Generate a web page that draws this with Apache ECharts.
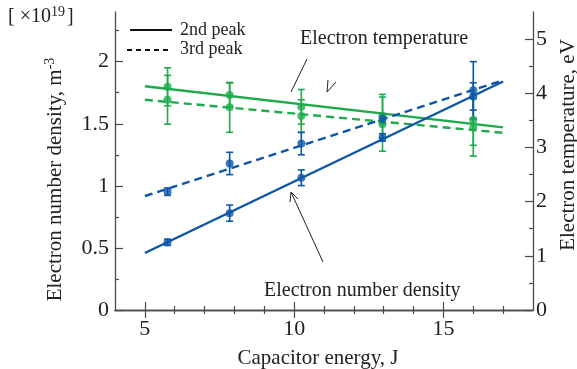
<!DOCTYPE html>
<html>
<head>
<meta charset="utf-8">
<script src="https://cdn.jsdelivr.net/npm/echarts@6/dist/echarts.min.js"></script>
<style>
  html, body { margin: 0; padding: 0; background: #fff; }
  #chart { width: 577px; height: 369px; }
</style>
</head>
<body>
<div id="chart"></div>
<script>
// Capacitor energy (J) of each discharge condition
var energy = [5.76, 7.84, 10.24, 12.96, 16.0];

// Electron number density [x10^19 m^-3] at the 2nd and 3rd current peaks
var density2nd = [0.545, 0.78, 1.065, 1.39, 1.72];
var density2ndErr = [0.025, 0.065, 0.063, 0.03, 0.11];
var density3rd = [0.953, 1.18, 1.34, 1.54, 1.77];
var density3rdErr = [0.03, 0.09, 0.09, 0.04, 0.23];

// Electron temperature [eV] at the 2nd and 3rd current peaks
var temp2nd = [4.12, 3.97, 3.75, 3.58, 3.51];
var temp2ndErr = [0.35, 0.22, 0.32, 0.4, 0.47];
var temp3rd = [3.88, 3.74, 3.58, 3.43, 3.37];
var temp3rdErr = [0.45, 0.46, 0.3, 0.5, 0.53];

// Linear fits, evaluated at the ends of the fitted range
var fitEnergy = [5, 17];
var density2ndFit = [0.459, 1.84];
var density3rdFit = [0.918, 1.85];
var temp2ndFit = [4.13, 3.37];
var temp3rdFit = [3.88, 3.27];

// Axis ticks
var xMajor = [5, 10, 15];
var xMinor = [6, 7, 8, 9, 11, 12, 13, 14, 16, 17];
var densMajor = [0, 0.5, 1, 1.5, 2];
var densMinor = [0.25, 0.75, 1.25, 1.75, 2.25];
var tempMajor = [0, 1, 2, 3, 4, 5];
var tempMinor = [0.5, 1.5, 2.5, 3.5, 4.5];

// Legend entries: the line style tells the two peaks apart
var legendNames = ['2nd peak', '3rd peak'];

var BLUE = '#0b56a8';
var GREEN = '#1fab4c';
var AXIS = '#4a4a4a';
var INK = '#222';
var FONT = '"Liberation Serif", "DejaVu Serif", serif';
var DASH = [8, 5];

function pairs(xs, ys) {
  return xs.map(function (x, i) { return [x, ys[i]]; });
}

function fitLine(ys, color, dashed, yIdx) {
  return {
    type: 'line',
    yAxisIndex: yIdx,
    data: pairs(fitEnergy, ys),
    symbol: 'none',
    silent: true,
    lineStyle: { color: color, width: 2.4, type: dashed ? DASH : 'solid' },
    z: 2
  };
}

function points(ys, color, yIdx) {
  return {
    type: 'scatter',
    yAxisIndex: yIdx,
    data: pairs(energy, ys),
    symbol: 'circle',
    symbolSize: 8,
    itemStyle: { color: color },
    z: 4
  };
}

function errorBars(ys, errs, color, yIdx) {
  return {
    type: 'custom',
    yAxisIndex: yIdx,
    encode: { x: 0, y: [1, 2] },
    data: energy.map(function (e, i) { return [e, ys[i] - errs[i], ys[i] + errs[i]]; }),
    renderItem: function (params, api) {
      var lo = api.coord([api.value(0), api.value(1)]);
      var hi = api.coord([api.value(0), api.value(2)]);
      var hw = 3.5;
      var st = { stroke: color, lineWidth: 1.6 };
      return {
        type: 'group',
        children: [
          { type: 'line', shape: { x1: lo[0], y1: lo[1], x2: hi[0], y2: hi[1] }, style: st },
          { type: 'line', shape: { x1: lo[0] - hw, y1: lo[1], x2: lo[0] + hw, y2: lo[1] }, style: st },
          { type: 'line', shape: { x1: hi[0] - hw, y1: hi[1], x2: hi[0] + hw, y2: hi[1] }, style: st }
        ]
      };
    },
    z: 3
  };
}

function tickAxis(base, values, len, extra) {
  var a = Object.assign({
    type: 'value',
    splitLine: { show: false },
    axisLine: { show: false },
    axisLabel: { show: false },
    axisTick: { show: true, inside: true, length: len, customValues: values,
                lineStyle: { color: AXIS, width: 1.2 } }
  }, base);
  return Object.assign(a, extra || {});
}

var nameStyle = { fontFamily: FONT, fontSize: 21, color: INK };
function tickLabels(values, margin) {
  return { show: true, customValues: values, margin: margin, fontFamily: FONT, fontSize: 22, color: INK };
}
var frameLine = { show: true, lineStyle: { color: AXIS, width: 1.3 } };

var chart = echarts.init(document.getElementById('chart'), null, { renderer: 'canvas' });

chart.setOption({
  animation: false,
  backgroundColor: '#fff',
  grid: { left: 115, right: 44, top: 12, bottom: 59, containLabel: false, outerBoundsMode: 'none' },
  xAxis: [
    tickAxis({ min: 4, max: 18, position: 'bottom' }, xMajor, 8, {
      axisLine: frameLine,
      axisLabel: tickLabels(xMajor, 8),
      name: 'Capacitor energy, J',
      nameLocation: 'middle',
      nameGap: 38,
      nameTextStyle: Object.assign({ padding: [0, 12, 0, 0] }, nameStyle)
    }),
    tickAxis({ min: 4, max: 18, position: 'bottom' }, xMinor, 4),
    tickAxis({ min: 4, max: 18, position: 'top' }, xMajor, 8, { axisLine: frameLine }),
    tickAxis({ min: 4, max: 18, position: 'top' }, xMinor, 4)
  ],
  yAxis: [
    tickAxis({ min: 0, max: 2.4, position: 'left' }, densMajor, 8, {
      axisLine: frameLine,
      axisLabel: tickLabels(densMajor, 6),
      name: 'Electron number density, m{sup|-3}',
      nameLocation: 'middle',
      nameRotate: 90,
      nameGap: 48,
      nameTextStyle: Object.assign({
        padding: [0, 37, 0, 0],
        rich: { sup: { fontFamily: FONT, fontSize: 14, color: INK, padding: [0, 0, 10, 0] } }
      }, nameStyle)
    }),
    tickAxis({ min: 0, max: 2.4, position: 'left' }, densMinor, 4),
    tickAxis({ min: 0, max: 5.5, position: 'right' }, tempMajor, 8, {
      axisLine: frameLine,
      axisLabel: tickLabels(tempMajor, 3),
      name: 'Electron temperature, eV',
      nameLocation: 'middle',
      nameRotate: 90,
      nameGap: 23,
      nameTextStyle: Object.assign({ padding: [0, 0, 0, 32] }, nameStyle)
    }),
    tickAxis({ min: 0, max: 5.5, position: 'right' }, tempMinor, 4)
  ],
  series: [
    fitLine(temp2ndFit, GREEN, false, 2),
    fitLine(temp3rdFit, GREEN, true, 2),
    fitLine(density2ndFit, BLUE, false, 0),
    fitLine(density3rdFit, BLUE, true, 0),

    errorBars(temp2nd, temp2ndErr, GREEN, 2),
    errorBars(temp3rd, temp3rdErr, GREEN, 2),
    errorBars(density2nd, density2ndErr, BLUE, 0),
    errorBars(density3rd, density3rdErr, BLUE, 0),

    points(temp2nd, GREEN, 2),
    points(temp3rd, GREEN, 2),
    points(density2nd, BLUE, 0),
    points(density3rd, BLUE, 0)
  ],
  graphic: [
    // unit multiplier of the density axis
    {
      type: 'text', left: 8, top: 5,
      style: {
        text: '[ \u00d710{s|19}]',
        fontFamily: FONT, fontSize: 20, fill: INK,
        rich: { s: { fontFamily: FONT, fontSize: 14, fill: INK, padding: [0, 2, 9, 0] } }
      }
    },
    // legend
    { type: 'line', shape: { x1: 130, y1: 30, x2: 172, y2: 30 }, style: { stroke: '#111', lineWidth: 2 } },
    { type: 'text', x: 180, y: 30, style: { text: legendNames[0], fontFamily: FONT, fontSize: 18, fill: INK, verticalAlign: 'middle' } },
    { type: 'line', shape: { x1: 127, y1: 50, x2: 172, y2: 50 }, style: { stroke: '#111', lineWidth: 2, lineDash: [5, 4] } },
    { type: 'text', x: 180, y: 49, style: { text: legendNames[1], fontFamily: FONT, fontSize: 18, fill: INK, verticalAlign: 'middle' } },
    // annotations
    {
      type: 'text', left: 300, top: 29,
      style: { text: 'Electron temperature', fontFamily: FONT, fontSize: 20, fill: INK }
    },
    { type: 'line', shape: { x1: 291, y1: 92, x2: 307, y2: 59 }, style: { stroke: INK, lineWidth: 1 } },
    { type: 'polyline', shape: { points: [[328, 80], [327, 92], [336, 82]] }, style: { stroke: INK, lineWidth: 1, fill: null } },
    {
      type: 'text', left: 264, top: 281,
      style: { text: 'Electron number density', fontFamily: FONT, fontSize: 20, fill: INK }
    },
    { type: 'line', shape: { x1: 323, y1: 262, x2: 291, y2: 192 }, style: { stroke: INK, lineWidth: 1 } },
    { type: 'polyline', shape: { points: [[290, 202], [291, 192], [298, 199]] }, style: { stroke: INK, lineWidth: 1, fill: null } }
  ]
});
</script>
</body>
</html>
